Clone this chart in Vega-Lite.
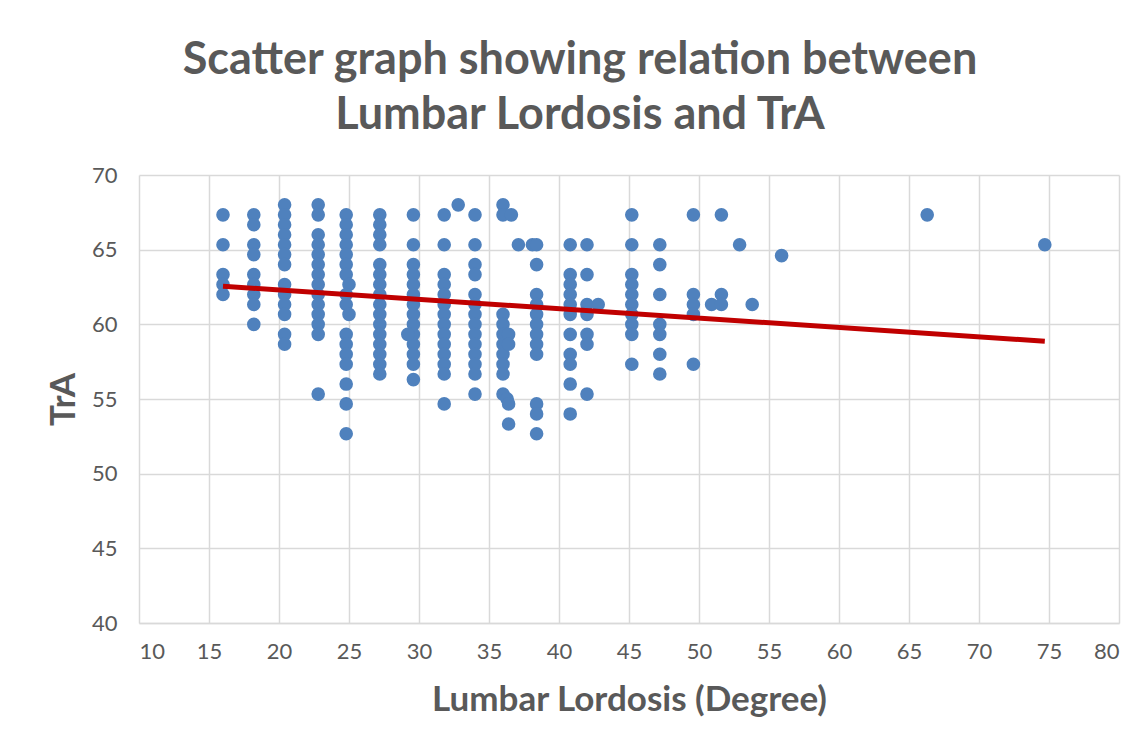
{
  "$schema": "https://vega.github.io/schema/vega-lite/v6.json",
  "width": 980,
  "height": 448,
  "autosize": {"type": "none"},
  "padding": {"left": 139, "top": 175, "right": 29, "bottom": 130},
  "background": "white",
  "title": {
    "text": ["Scatter graph showing relation between", "Lumbar Lordosis and TrA"],
    "font": "Lato",
    "fontSize": 45,
    "fontWeight": "bold",
    "color": "#595959",
    "lineHeight": 55,
    "anchor": "middle",
    "dx": -49,
    "offset": 26
  },
  "config": {
    "view": {"stroke": null},
    "axis": {
      "labelFont": "Lato",
      "labelFontSize": 22,
      "labelColor": "#595959",
      "titleFont": "Lato",
      "titleFontSize": 35,
      "titleFontWeight": "bold",
      "titleColor": "#595959",
      "gridColor": "#d9d9d9",
      "gridWidth": 1.5,
      "ticks": false
    }
  },
  "datasets": {
    "points": [
      {"LL": 16.0, "TrA": 67.33}, {"LL": 16.0, "TrA": 65.33}, {"LL": 16.0, "TrA": 63.33}, {"LL": 16.0, "TrA": 62.67}, {"LL": 16.0, "TrA": 62.0},
      {"LL": 18.2, "TrA": 67.33}, {"LL": 18.2, "TrA": 66.67}, {"LL": 18.2, "TrA": 65.33}, {"LL": 18.2, "TrA": 64.67}, {"LL": 18.2, "TrA": 63.33}, {"LL": 18.2, "TrA": 62.67}, {"LL": 18.2, "TrA": 62.0}, {"LL": 18.2, "TrA": 61.33}, {"LL": 18.2, "TrA": 60.0},
      {"LL": 20.4, "TrA": 68.0}, {"LL": 20.4, "TrA": 67.33}, {"LL": 20.4, "TrA": 66.67}, {"LL": 20.4, "TrA": 66.0}, {"LL": 20.4, "TrA": 65.33}, {"LL": 20.4, "TrA": 64.67}, {"LL": 20.4, "TrA": 64.0}, {"LL": 20.4, "TrA": 62.67}, {"LL": 20.4, "TrA": 62.0}, {"LL": 20.4, "TrA": 61.33}, {"LL": 20.4, "TrA": 60.67}, {"LL": 20.4, "TrA": 59.33}, {"LL": 20.4, "TrA": 58.67},
      {"LL": 22.8, "TrA": 68.0}, {"LL": 22.8, "TrA": 67.33}, {"LL": 22.8, "TrA": 66.0}, {"LL": 22.8, "TrA": 65.33}, {"LL": 22.8, "TrA": 64.67}, {"LL": 22.8, "TrA": 64.0}, {"LL": 22.8, "TrA": 63.33}, {"LL": 22.8, "TrA": 62.67}, {"LL": 22.8, "TrA": 62.0}, {"LL": 22.8, "TrA": 61.33}, {"LL": 22.8, "TrA": 60.67}, {"LL": 22.8, "TrA": 60.0}, {"LL": 22.8, "TrA": 59.33}, {"LL": 22.8, "TrA": 55.33},
      {"LL": 24.8, "TrA": 67.33}, {"LL": 24.8, "TrA": 66.67}, {"LL": 24.8, "TrA": 66.0}, {"LL": 24.8, "TrA": 65.33}, {"LL": 24.8, "TrA": 64.67}, {"LL": 24.8, "TrA": 64.0}, {"LL": 24.8, "TrA": 63.33}, {"LL": 25.0, "TrA": 62.67}, {"LL": 24.8, "TrA": 62.0}, {"LL": 24.8, "TrA": 61.33}, {"LL": 25.0, "TrA": 60.67}, {"LL": 24.8, "TrA": 59.33}, {"LL": 24.8, "TrA": 58.67}, {"LL": 24.8, "TrA": 58.0}, {"LL": 24.8, "TrA": 57.33}, {"LL": 24.8, "TrA": 56.0}, {"LL": 24.8, "TrA": 54.67}, {"LL": 24.8, "TrA": 52.67},
      {"LL": 27.2, "TrA": 67.33}, {"LL": 27.2, "TrA": 66.67}, {"LL": 27.2, "TrA": 66.0}, {"LL": 27.2, "TrA": 65.33}, {"LL": 27.2, "TrA": 64.0}, {"LL": 27.2, "TrA": 63.33}, {"LL": 27.2, "TrA": 62.67}, {"LL": 27.2, "TrA": 62.0}, {"LL": 27.2, "TrA": 61.33}, {"LL": 27.2, "TrA": 60.67}, {"LL": 27.2, "TrA": 60.0}, {"LL": 27.2, "TrA": 59.33}, {"LL": 27.2, "TrA": 58.67}, {"LL": 27.2, "TrA": 58.0}, {"LL": 27.2, "TrA": 57.33}, {"LL": 27.2, "TrA": 56.67},
      {"LL": 29.6, "TrA": 67.33}, {"LL": 29.6, "TrA": 65.33}, {"LL": 29.6, "TrA": 64.0}, {"LL": 29.6, "TrA": 63.33}, {"LL": 29.6, "TrA": 62.67}, {"LL": 29.6, "TrA": 62.0}, {"LL": 29.6, "TrA": 61.33}, {"LL": 29.6, "TrA": 60.67}, {"LL": 29.6, "TrA": 60.0}, {"LL": 29.6, "TrA": 59.33}, {"LL": 29.6, "TrA": 58.67}, {"LL": 29.6, "TrA": 58.0}, {"LL": 29.6, "TrA": 57.33}, {"LL": 29.6, "TrA": 56.3}, {"LL": 29.2, "TrA": 59.33},
      {"LL": 31.8, "TrA": 67.33}, {"LL": 31.8, "TrA": 65.33}, {"LL": 31.8, "TrA": 63.33}, {"LL": 31.8, "TrA": 62.67}, {"LL": 31.8, "TrA": 62.0}, {"LL": 31.8, "TrA": 61.33}, {"LL": 31.8, "TrA": 60.67}, {"LL": 31.8, "TrA": 60.0}, {"LL": 31.8, "TrA": 59.33}, {"LL": 31.8, "TrA": 58.67}, {"LL": 31.8, "TrA": 58.0}, {"LL": 31.8, "TrA": 57.33}, {"LL": 31.8, "TrA": 56.67}, {"LL": 31.8, "TrA": 54.67},
      {"LL": 32.8, "TrA": 68.0},
      {"LL": 34.0, "TrA": 67.33}, {"LL": 34.0, "TrA": 65.33}, {"LL": 34.0, "TrA": 64.0}, {"LL": 34.0, "TrA": 63.33}, {"LL": 34.0, "TrA": 62.0}, {"LL": 34.0, "TrA": 61.33}, {"LL": 34.0, "TrA": 60.67}, {"LL": 34.0, "TrA": 60.0}, {"LL": 34.0, "TrA": 59.33}, {"LL": 34.0, "TrA": 58.67}, {"LL": 34.0, "TrA": 58.0}, {"LL": 34.0, "TrA": 57.33}, {"LL": 34.0, "TrA": 56.67}, {"LL": 34.0, "TrA": 55.33},
      {"LL": 36.0, "TrA": 68.0}, {"LL": 36.0, "TrA": 67.33}, {"LL": 36.0, "TrA": 60.67}, {"LL": 36.0, "TrA": 60.0}, {"LL": 36.0, "TrA": 59.33}, {"LL": 36.0, "TrA": 58.67}, {"LL": 36.0, "TrA": 58.0}, {"LL": 36.0, "TrA": 57.33}, {"LL": 36.0, "TrA": 56.67}, {"LL": 36.0, "TrA": 55.33},
      {"LL": 36.6, "TrA": 67.33}, {"LL": 36.4, "TrA": 59.33}, {"LL": 36.4, "TrA": 58.67}, {"LL": 36.3, "TrA": 55.0}, {"LL": 36.4, "TrA": 54.67}, {"LL": 36.4, "TrA": 53.33},
      {"LL": 37.1, "TrA": 65.33}, {"LL": 38.1, "TrA": 65.33},
      {"LL": 38.4, "TrA": 65.33}, {"LL": 38.4, "TrA": 64.0}, {"LL": 38.4, "TrA": 62.0}, {"LL": 38.4, "TrA": 61.33}, {"LL": 38.4, "TrA": 60.67}, {"LL": 38.4, "TrA": 60.0}, {"LL": 38.4, "TrA": 59.33}, {"LL": 38.4, "TrA": 58.67}, {"LL": 38.4, "TrA": 58.0}, {"LL": 38.4, "TrA": 54.67}, {"LL": 38.4, "TrA": 54.0}, {"LL": 38.4, "TrA": 52.67},
      {"LL": 40.8, "TrA": 65.33}, {"LL": 40.8, "TrA": 63.33}, {"LL": 40.8, "TrA": 62.67}, {"LL": 40.8, "TrA": 62.0}, {"LL": 40.8, "TrA": 61.33}, {"LL": 40.8, "TrA": 60.67}, {"LL": 40.8, "TrA": 59.33}, {"LL": 40.8, "TrA": 58.0}, {"LL": 40.8, "TrA": 57.33}, {"LL": 40.8, "TrA": 56.0}, {"LL": 40.8, "TrA": 54.0},
      {"LL": 42.0, "TrA": 65.33}, {"LL": 42.0, "TrA": 63.33}, {"LL": 42.0, "TrA": 61.33}, {"LL": 42.0, "TrA": 60.67}, {"LL": 42.0, "TrA": 59.33}, {"LL": 42.0, "TrA": 58.67}, {"LL": 42.0, "TrA": 55.33},
      {"LL": 42.8, "TrA": 61.33},
      {"LL": 45.2, "TrA": 67.33}, {"LL": 45.2, "TrA": 65.33}, {"LL": 45.2, "TrA": 63.33}, {"LL": 45.2, "TrA": 62.67}, {"LL": 45.2, "TrA": 62.0}, {"LL": 45.2, "TrA": 61.33}, {"LL": 45.2, "TrA": 60.67}, {"LL": 45.2, "TrA": 60.0}, {"LL": 45.2, "TrA": 59.33}, {"LL": 45.2, "TrA": 57.33},
      {"LL": 47.2, "TrA": 65.33}, {"LL": 47.2, "TrA": 64.0}, {"LL": 47.2, "TrA": 62.0}, {"LL": 47.2, "TrA": 60.0}, {"LL": 47.2, "TrA": 59.33}, {"LL": 47.2, "TrA": 58.0}, {"LL": 47.2, "TrA": 56.67},
      {"LL": 49.6, "TrA": 67.33}, {"LL": 49.6, "TrA": 62.0}, {"LL": 49.6, "TrA": 61.33}, {"LL": 49.6, "TrA": 60.67}, {"LL": 49.6, "TrA": 57.33},
      {"LL": 50.9, "TrA": 61.33},
      {"LL": 51.6, "TrA": 67.33}, {"LL": 51.6, "TrA": 62.0}, {"LL": 51.6, "TrA": 61.33},
      {"LL": 52.9, "TrA": 65.33},
      {"LL": 53.8, "TrA": 61.33},
      {"LL": 55.9, "TrA": 64.6},
      {"LL": 66.3, "TrA": 67.33},
      {"LL": 74.7, "TrA": 65.33}
    ],
    "trend": [
      {"LL": 16.0, "TrA": 62.55},
      {"LL": 74.7, "TrA": 58.87}
    ]
  },
  "layer": [
    {
      "data": {"name": "points"},
      "mark": {"type": "circle", "size": 185, "color": "#4f81bd", "opacity": 1},
      "encoding": {
        "x": {
          "field": "LL",
          "type": "quantitative",
          "scale": {"domain": [10, 80], "nice": false, "zero": false},
          "axis": {
            "title": "Lumbar Lordosis (Degree)",
            "values": [10, 15, 20, 25, 30, 35, 40, 45, 50, 55, 60, 65, 70, 75, 80],
            "grid": true,
            "domain": true,
            "domainColor": "#d9d9d9",
            "domainWidth": 1.5,
            "labelPadding": 18,
            "titlePadding": 20
          }
        },
        "y": {
          "field": "TrA",
          "type": "quantitative",
          "scale": {"domain": [40, 70], "nice": false, "zero": false},
          "axis": {
            "title": "TrA",
            "values": [40, 45, 50, 55, 60, 65, 70],
            "grid": true,
            "domain": false,
            "labelPadding": 22,
            "titlePadding": 10
          }
        }
      }
    },
    {
      "data": {"name": "trend"},
      "mark": {"type": "line", "color": "#c00000", "strokeWidth": 5},
      "encoding": {
        "x": {"field": "LL", "type": "quantitative"},
        "y": {"field": "TrA", "type": "quantitative"}
      }
    }
  ]
}
